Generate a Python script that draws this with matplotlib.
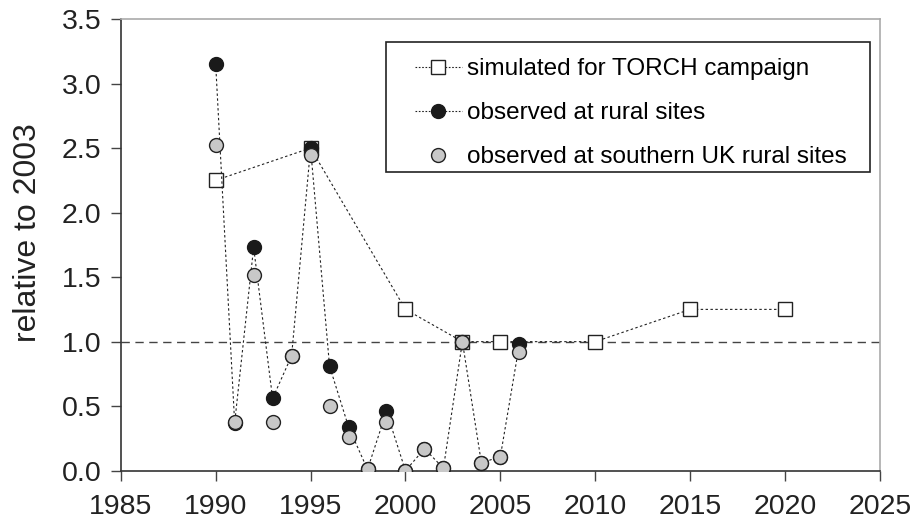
import matplotlib
matplotlib.use("Agg")
import matplotlib.pyplot as plt
from matplotlib.lines import Line2D
from matplotlib.patches import Rectangle

plt.rcParams['font.family'] = ['Liberation Sans', 'DejaVu Sans']

# Simulated values for the TORCH campaign
sim_years = [1990, 1995, 2000, 2003, 2005, 2010, 2015, 2020]
sim_vals = [2.25, 2.50, 1.25, 1.00, 1.00, 1.00, 1.25, 1.25]

# Observed at rural sites
rural_years = [1990, 1991, 1992, 1993, 1994, 1995, 1996, 1997, 1998, 1999,
               2000, 2001, 2002, 2003, 2004, 2005, 2006]
rural_vals = [3.15, 0.37, 1.73, 0.56, 0.89, 2.50, 0.81, 0.34, 0.01, 0.46,
              0.00, 0.17, 0.02, 1.00, 0.06, 0.11, 0.98]

# Observed at southern UK rural sites
south_years = [1990, 1991, 1992, 1993, 1994, 1995, 1996, 1997, 1998, 1999,
               2000, 2001, 2002, 2003, 2004, 2005, 2006]
south_vals = [2.52, 0.38, 1.52, 0.38, 0.89, 2.45, 0.50, 0.26, 0.01, 0.38,
              0.00, 0.17, 0.02, 1.00, 0.06, 0.11, 0.92]

x_ticks = [1985, 1990, 1995, 2000, 2005, 2010, 2015, 2020, 2025]
y_ticks = [0.0, 0.5, 1.0, 1.5, 2.0, 2.5, 3.0, 3.5]

fig = plt.figure(figsize=(9.15, 5.26), dpi=100)
ax = fig.add_axes([0.132, 0.1051, 0.8297, 0.8588])

dot = (0, (2.2, 2.2))
ax.axhline(1.0, color='#444444', lw=1.0, ls=(0, (6, 4)), zorder=1)

ax.plot(sim_years, sim_vals, color='#222222', lw=0.8, ls=dot,
        marker='s', ms=9.5, mfc='white', mec='#222222', mew=1.0, zorder=3)
ax.plot(rural_years, rural_vals, color='#222222', lw=0.8, ls=dot,
        marker='o', ms=10, mfc='#1a1a1a', mec='#1a1a1a', mew=1.0, zorder=4)
ax.plot(south_years, south_vals, ls='none',
        marker='o', ms=10, mfc='#c8c8c8', mec='#222222', mew=1.0, zorder=5)

ax.set_xlim(1985, 2025)
ax.set_ylim(0, 3.5)
ax.set_xticks(x_ticks)
ax.set_yticks(y_ticks)
ax.set_yticklabels([f"{v:.1f}" for v in y_ticks])
ax.tick_params(axis='both', labelsize=20.5, length=7, width=1, color='#444444',
               labelcolor='#222222', direction='out')
ax.tick_params(axis='x', pad=10)
ax.tick_params(axis='y', pad=7)

for side in ['left', 'bottom']:
    ax.spines[side].set_color('#333333')
    ax.spines[side].set_linewidth(1.2)
for side in ['top', 'right']:
    ax.spines[side].set_color('#aaaaaa')
    ax.spines[side].set_linewidth(1.2)

ax.set_ylabel('relative to 2003', fontsize=23, color='#222222')
ax.yaxis.set_label_coords(-0.103, 0.528)

# Legend box drawn as its own frame, entries placed inside it
ax.add_patch(Rectangle((0.349, 0.661), 0.638, 0.288, transform=ax.transAxes,
                       facecolor='white', edgecolor='#222222', lw=1.2,
                       zorder=6))

handles = [
    Line2D([], [], color='#222222', lw=0.8, ls=(0, (1.5, 1.5)), marker='s', ms=9.5,
           mfc='white', mec='#222222'),
    Line2D([], [], color='#222222', lw=0.8, ls=(0, (1.5, 1.5)), marker='o', ms=10,
           mfc='#1a1a1a', mec='#1a1a1a'),
    Line2D([], [], ls='none', marker='o', ms=10, mfc='#c8c8c8', mec='#222222'),
]
labels = ['simulated for TORCH campaign', 'observed at rural sites',
          'observed at southern UK rural sites']
leg = ax.legend(handles, labels, loc='upper left',
                bbox_to_anchor=(0.3876, 0.913), fontsize=17.5, frameon=False,
                handlelength=1.93, handletextpad=0.2, labelspacing=0.9,
                borderpad=0, borderaxespad=0)
leg.set_zorder(7)

fig.savefig('out.png', dpi=100)
